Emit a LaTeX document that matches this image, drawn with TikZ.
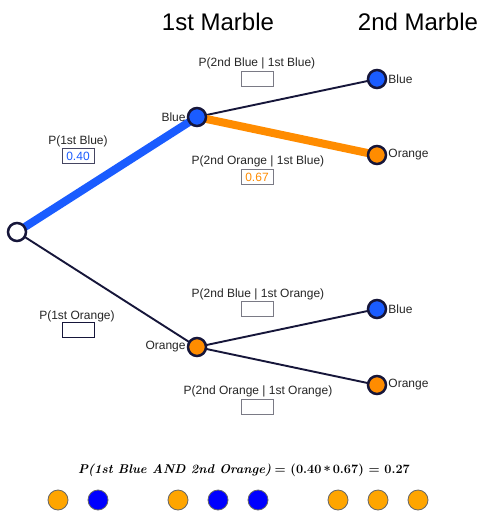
\documentclass[tikz,border=0pt]{standalone}
\usepackage{fontspec}
\setmainfont{Liberation Sans}
\newfontfamily\lmr{Latin Modern Roman}
\newcommand\myformula{{\lmr\bfseries\itshape P(1st Blue AND 2nd Orange)} {\lmr\bfseries = (0.40\,\raisebox{-0.35ex}{*}\,0.67) = 0.27}}
\definecolor{navy}{HTML}{16163A}
\definecolor{nblue}{HTML}{1A5CFF}
\definecolor{norange}{HTML}{FF8C00}
\definecolor{mblue}{HTML}{0000FF}
\definecolor{morange}{HTML}{FFA500}
\definecolor{bgray}{HTML}{7A7A85}
\begin{document}
\begin{tikzpicture}[x=1pt,y=-1pt,
  dot/.style={circle,draw=navy,line width=2.5pt,minimum size=18pt,inner sep=0pt},
  bluedot/.style={dot,fill=nblue},
  orangedot/.style={dot,fill=norange},
  lbl/.style={font=\fontsize{12}{14}\selectfont,text=black!85,inner sep=1pt},
  ttl/.style={font=\fontsize{24}{27}\selectfont,text=black},
  pbox/.style={draw=#1,line width=0.9pt,minimum width=32pt,minimum height=15pt,inner sep=0pt,font=\fontsize{12}{14}\selectfont},
  edge/.style={draw=navy,line width=1.9pt},
  marble/.style={circle,draw=gray!80!black,line width=0.8pt,minimum size=20pt,inner sep=0pt},
  formulastyle/.style={font=\fontsize{12.7}{15}\selectfont}
]
\useasboundingbox (0,0) rectangle (481,530);
\fill[white] (0,0) rectangle (481,530);

\node[ttl] (t1) at (218,22) {1st Marble};
\node[ttl] (t2) at (418,22) {2nd Marble};

\coordinate (root) at (17,232);
\coordinate (b1) at (197,117);
\coordinate (o1) at (197,347);
\coordinate (bb) at (377,79);
\coordinate (bo) at (377,155);
\coordinate (ob) at (377,309);
\coordinate (oo) at (377,385);

\draw[nblue,line width=8pt] (root) -- (b1);
\draw[edge] (root) -- (o1);
\draw[edge] (b1) -- (bb);
\draw[norange,line width=8pt] (b1) -- (bo);
\draw[edge] (o1) -- (ob);
\draw[edge] (o1) -- (oo);

\node[dot,fill=white] (nroot) at (root) {};
\node[bluedot] (nb1) at (b1) {};
\node[orangedot] (no1) at (o1) {};
\node[bluedot] (nbb) at (bb) {};
\node[orangedot] (nbo) at (bo) {};
\node[bluedot] (nob) at (ob) {};
\node[orangedot] (noo) at (oo) {};

\node[lbl,anchor=east] (lb1) at (nb1.west) {Blue};
\node[lbl,anchor=east] (lo1) at (no1.west) {Orange};
\node[lbl,anchor=west] (lbb) at (nbb.east) {Blue};
\node[lbl,anchor=west] (lbo) at (nbo.east) {Orange};
\node[lbl,anchor=west] (lob) at (nob.east) {Blue};
\node[lbl,anchor=west] (loo) at (noo.east) {Orange};

\node[lbl] (p1) at (78,141) {P(1st Blue)};
\node[pbox=navy!80,text=nblue] (v1) at (78,156) {0.40};
\node[lbl] (p2) at (77,316) {P(1st Orange)};
\node[pbox=navy] (v2) at (78,330) {};
\node[lbl] (p3) at (257,63) {P(2nd Blue | 1st Blue)};
\node[pbox=bgray] (v3) at (257,79) {};
\node[lbl] (p4) at (258,161) {P(2nd Orange | 1st Blue)};
\node[pbox=bgray,text=norange] (v4) at (257,177) {0.67};
\node[lbl] (p5) at (258,294) {P(2nd Blue | 1st Orange)};
\node[pbox=bgray] (v5) at (257,309) {};
\node[lbl] (p6) at (258,391) {P(2nd Orange | 1st Orange)};
\node[pbox=bgray] (v6) at (257,407) {};

\node[formulastyle] (formula) at (244,470) {\myformula};

\node[marble,fill=morange] (m1) at (58,500) {};
\node[marble,fill=mblue] (m2) at (98,500) {};
\node[marble,fill=morange] (m3) at (178,500) {};
\node[marble,fill=mblue] (m4) at (218,500) {};
\node[marble,fill=mblue] (m5) at (258,500) {};
\node[marble,fill=morange] (m6) at (338,500) {};
\node[marble,fill=morange] (m7) at (378,500) {};
\node[marble,fill=morange] (m8) at (418,500) {};
\end{tikzpicture}
\end{document}
